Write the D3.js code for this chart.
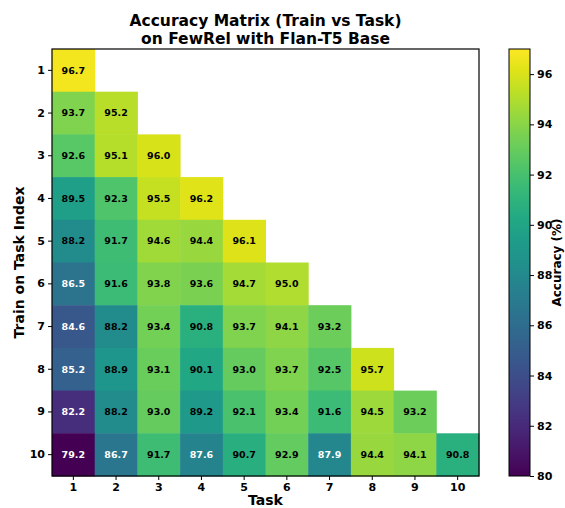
<!DOCTYPE html>
<html>
<head>
<meta charset="utf-8">
<script src="https://cdn.jsdelivr.net/npm/d3@7"></script>
<style>
  body { margin: 0; background: white; }
  text { font-family: "DejaVu Sans", sans-serif; }
</style>
</head>
<body>
<div id="chart"></div>
<script>
var w = 565, h = 508;

var tasks = ["1", "2", "3", "4", "5", "6", "7", "8", "9", "10"];
var trainSteps = ["1", "2", "3", "4", "5", "6", "7", "8", "9", "10"];
var accuracy = [
    [96.7],
    [93.7, 95.2],
    [92.6, 95.1, 96.0],
    [89.5, 92.3, 95.5, 96.2],
    [88.2, 91.7, 94.6, 94.4, 96.1],
    [86.5, 91.6, 93.8, 93.6, 94.7, 95.0],
    [84.6, 88.2, 93.4, 90.8, 93.7, 94.1, 93.2],
    [85.2, 88.9, 93.1, 90.1, 93.0, 93.7, 92.5, 95.7],
    [82.2, 88.2, 93.0, 89.2, 92.1, 93.4, 91.6, 94.5, 93.2],
    [79.2, 86.7, 91.7, 87.6, 90.7, 92.9, 87.9, 94.4, 94.1, 90.8]
];
var colorTicks = [80, 82, 84, 86, 88, 90, 92, 94, 96];

var svg = d3.select("#chart").append("svg").attr("width", w).attr("height", h);

var plotL = 52, plotT = 49, size = 427;

var x = d3.scaleBand().domain(tasks).range([plotL, plotL + size]);
var y = d3.scaleBand().domain(trainSteps).range([plotT, plotT + size]);
var color = d3.scaleSequential(d3.interpolateViridis).domain([80, 97]).clamp(true);

// cells
var cells = [];
accuracy.forEach(function (row, i) {
    row.forEach(function (v, j) {
        cells.push({ train: trainSteps[i], task: tasks[j], v: v });
    });
});

svg.append("g").selectAll("rect").data(cells).enter().append("rect")
    .attr("x", d => x(d.task))
    .attr("y", d => y(d.train))
    .attr("width", x.bandwidth() + 0.5)
    .attr("height", y.bandwidth() + 0.5)
    .attr("fill", d => color(d.v));

svg.append("g").selectAll("text").data(cells).enter().append("text")
    .attr("x", d => x(d.task) + x.bandwidth() / 2)
    .attr("y", d => y(d.train) + y.bandwidth() / 2)
    .attr("dy", "0.35em")
    .attr("text-anchor", "middle")
    .attr("font-size", "9.5px")
    .attr("font-weight", "bold")
    .attr("fill", d => d.v < 88 ? "white" : "black")
    .text(d => d.v.toFixed(1));

// frame
svg.append("rect").attr("x", plotL).attr("y", plotT).attr("width", size).attr("height", size)
    .attr("fill", "none").attr("stroke", "black").attr("stroke-width", 1.2);

var xAxis = svg.append("g").attr("transform", "translate(0," + (plotT + size) + ")")
    .call(d3.axisBottom(x).tickSize(4).tickPadding(3));
var yAxis = svg.append("g").attr("transform", "translate(" + plotL + ",0)")
    .call(d3.axisLeft(y).tickSize(4).tickPadding(3));
[xAxis, yAxis].forEach(function (a) {
    a.select(".domain").remove();
    a.selectAll("text").attr("font-size", "11px").attr("font-weight", "bold")
        .attr("font-family", "DejaVu Sans").attr("fill", "black");
});

// titles
svg.append("text").attr("x", plotL + size / 2).attr("y", 26).attr("text-anchor", "middle")
    .attr("font-size", "15.5px").attr("font-weight", "bold").text("Accuracy Matrix (Train vs Task)");
svg.append("text").attr("x", plotL + size / 2).attr("y", 44).attr("text-anchor", "middle")
    .attr("font-size", "15.5px").attr("font-weight", "bold").text("on FewRel with Flan-T5 Base");
svg.append("text").attr("x", plotL + size / 2).attr("y", 505).attr("text-anchor", "middle")
    .attr("font-size", "14px").attr("font-weight", "bold").text("Task");
svg.append("text").attr("transform", "translate(24," + (plotT + size / 2) + ") rotate(-90)")
    .attr("text-anchor", "middle").attr("font-size", "14px").attr("font-weight", "bold")
    .text("Train on Task Index");

// colorbar
var cbX = 509, cbW = 21;
var cy = d3.scaleLinear().domain([80, 97]).range([plotT + size, plotT]);
var defs = svg.append("defs");
var grad = defs.append("linearGradient").attr("id", "cbgrad")
    .attr("x1", "0").attr("y1", "1").attr("x2", "0").attr("y2", "0");
d3.range(0, 1.001, 0.05).forEach(function (t) {
    grad.append("stop").attr("offset", t).attr("stop-color", color(80 + t * 17));
});
svg.append("rect").attr("x", cbX).attr("y", plotT).attr("width", cbW).attr("height", size)
    .attr("fill", "url(#cbgrad)").attr("stroke", "black").attr("stroke-width", 1);
var cAxis = svg.append("g").attr("transform", "translate(" + (cbX + cbW) + ",0)")
    .call(d3.axisRight(cy).tickValues(colorTicks).tickSize(4).tickPadding(3));
cAxis.select(".domain").remove();
cAxis.selectAll("text").attr("font-size", "11px").attr("font-weight", "bold")
    .attr("font-family", "DejaVu Sans").attr("fill", "black");
svg.append("text").attr("transform", "translate(565," + (plotT + size / 2) + ") rotate(-90)")
    .attr("text-anchor", "middle").attr("font-size", "12px").attr("font-weight", "bold")
    .attr("dy", "-0.3em").text("Accuracy (%)");
</script>
</body>
</html>
